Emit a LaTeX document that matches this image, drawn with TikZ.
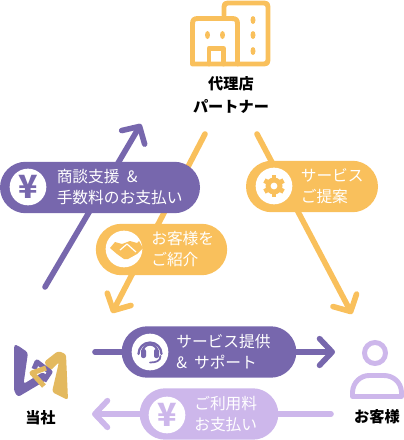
\documentclass[tikz,border=0pt]{standalone}
\usepackage{fontspec}
\setmainfont{Noto Sans CJK JP}
\usetikzlibrary{arrows.meta,shapes.misc}
\definecolor{plum}{HTML}{7767AD}
\definecolor{honey}{HTML}{F9C05C}
\definecolor{lilac}{HTML}{CDB7EB}
\definecolor{logogold}{HTML}{E3B95F}
\tikzset{
  flow/.style={line width=4.2pt, line cap=round, -{Straight Barb[length=9.5pt,width=20pt,round]}},
  pill/.style={rounded rectangle, inner sep=0pt, minimum height=38.6pt},
  badge/.style={circle, fill=white, inner sep=0pt, minimum size=27.5pt},
  msg/.style={font=\fontsize{11.8}{15.4}\selectfont, text=white, align=left, anchor=west, inner sep=0pt},
  lbl/.style={font=\fontsize{11.4}{17}\selectfont\bfseries, text=black, align=center, inner sep=0pt},
  yenmark/.style={font=\fontsize{24}{24}\selectfont\bfseries, inner sep=0pt},
  iconline/.style={line width=3.7pt, line cap=round, line join=round},
}
\begin{document}
\begin{tikzpicture}[x=0.75pt,y=0.75pt]
  \useasboundingbox (0,0) rectangle (404,-440);
  % ends of the connectors
  \coordinate (feeout) at (45,-287);
  \coordinate (feein) at (141,-124);
  \coordinate (leadout) at (205,-134);
  \coordinate (leadin) at (112,-313);
  \coordinate (offerout) at (257,-134);
  \coordinate (offerin) at (352,-314);
  \coordinate (serviceout) at (95,-352);
  \coordinate (servicein) at (335,-352);
  \coordinate (payout) at (331,-414);
  \coordinate (payin) at (92,-414);
  \draw[flow, plum] (feeout) -- (feein);
  \draw[flow, honey] (leadout) -- (leadin);
  \draw[flow, honey] (offerout) -- (offerin);
  \draw[flow, plum] (serviceout) -- (servicein);
  \draw[flow, lilac] (payout) -- (payin);
  % fee pill
  \node[pill, fill=plum, minimum width=150pt] (feepill) at (100,-187.5) {};
  \node[badge] (feebadge) at (28,-187) {};
  \node[yenmark, text=plum] (feeyen) at (28,-187) {¥};
  \node[msg] (feetext) at (56.5,-187) {商談支援\hspace{0.45em}\&\\手数料のお支払い};
  % lead pill
  \node[pill, fill=honey, minimum width=98.5pt] (leadpill) at (161.5,-249.5) {};
  \node[badge] (leadbadge) at (124,-249) {};
  \fill[honey] (110,-248) -- (115,-242) -- (122,-244) -- (130,-241) -- (137,-243) -- (139,-241) -- (143,-248) -- (137,-254) -- (128,-259) -- (124,-259) -- (117,-254) -- cycle;
  \draw[white, line width=0.9pt, line join=round] (120,-250) -- (127,-244) -- (136,-252);
  \node[msg] (leadtext) at (151,-249) {お客様を\\ご紹介};
  % offer pill
  \node[pill, fill=honey, minimum width=99pt] (offerpill) at (312,-186.5) {};
  \node[badge] (offerbadge) at (274,-186) {};
  \foreach \a in {30,90,150,210,270,330}
    \draw[honey, line width=3.6pt] (274,-186) -- ++(\a:11);
  \fill[honey] (274,-186) circle (8.5);
  \fill[white] (274,-186) circle (3.4);
  \node[msg] (offertext) at (300.5,-186) {サービス\\ご提案};
  % service pill
  \node[pill, fill=plum, minimum width=131pt] (servicepill) at (209,-352) {};
  \node[badge] (servicebadge) at (150,-352) {};
  \draw[plum, line width=1.7pt, line cap=round] (138.5,-354) arc[start angle=180, end angle=0, radius=11.5];
  \draw[plum, line width=1.7pt] (142.5,-352) arc[start angle=180, end angle=0, radius=7.5];
  \fill[plum, rounded corners=1.5pt] (141,-349) rectangle (146,-358);
  \fill[plum, rounded corners=1.5pt] (154,-349) rectangle (159,-358);
  \draw[plum, line width=1.3pt, line cap=round] (160.5,-356) .. controls (160.5,-361) and (156,-362.5) .. (150,-362.5);
  \node[msg] (servicetext) at (176,-352) {サービス提供\\\&\hspace{0.45em}サポート};
  % payment pill
  \node[pill, fill=lilac, minimum width=104pt] (paypill) at (209,-414) {};
  \node[badge] (paybadge) at (167,-415) {};
  \node[yenmark, text=lilac] (payyen) at (167,-415) {¥};
  \node[msg] (paytext) at (194,-414) {ご利用料\\お支払い};
  % building
  \draw[honey, iconline] (224,-15) -- (224,-7) .. controls (224,-4) and (225,-3) .. (228,-3) -- (264,-3) .. controls (267,-3) and (268,-4) .. (268,-7) -- (268,-60) .. controls (268,-63) and (267,-64) .. (264,-64) -- (238,-64);
  \draw[honey, iconline] (192.5,-64) -- (192.5,-24) .. controls (192.5,-20) and (194,-18.5) .. (198,-18.5) -- (232,-18.5) .. controls (236,-18.5) and (237.5,-20) .. (237.5,-24) -- (237.5,-64) -- cycle;
  \draw[honey, iconline] (209,-64) -- (209,-48.5) -- (223.5,-48.5) -- (223.5,-64);
  \foreach \px/\py in {207.5/-35, 222.5/-35, 253/-20, 253/-35, 253/-51}
    \fill[honey] (\px,\py) ellipse (2.5 and 4);
  \node[lbl] (partnerlabel) at (231,-95) {代理店\\パートナー};
  % own logo
  \fill[plum, rounded corners=2pt] (14,-345) -- (17,-345) -- (28,-352.5) -- (23.5,-384) -- (43,-372) -- (50,-378) -- (18,-397) -- (14,-391) -- cycle;
  \fill[logogold, rounded corners=2pt] (44,-362) -- (58,-351) -- (66,-354) -- (68,-400) -- (52,-392) -- (59,-362) -- (50,-371) -- cycle;
  \draw[plum, line width=3.8pt, line join=round] (34,-369) -- (37,-362) -- (50,-372) -- (44,-381);
  \draw[logogold, line width=3.8pt, line join=round] (46,-368) -- (32,-373) -- (44,-386);
  \node[lbl] (ownlabel) at (40.5,-418) {当社};
  % customer
  \draw[lilac, line width=3.7pt] (375,-353) circle (10.5);
  \draw[lilac, iconline] (352.5,-396.5) -- (352.5,-392) .. controls (353,-382) and (361,-375.5) .. (369,-375.5) -- (384,-375.5) .. controls (393,-375.5) and (401,-382) .. (401.5,-392) -- (401.5,-396.5) -- cycle;
  \node[lbl] (customerlabel) at (377,-417) {お客様};
\end{tikzpicture}
\end{document}
